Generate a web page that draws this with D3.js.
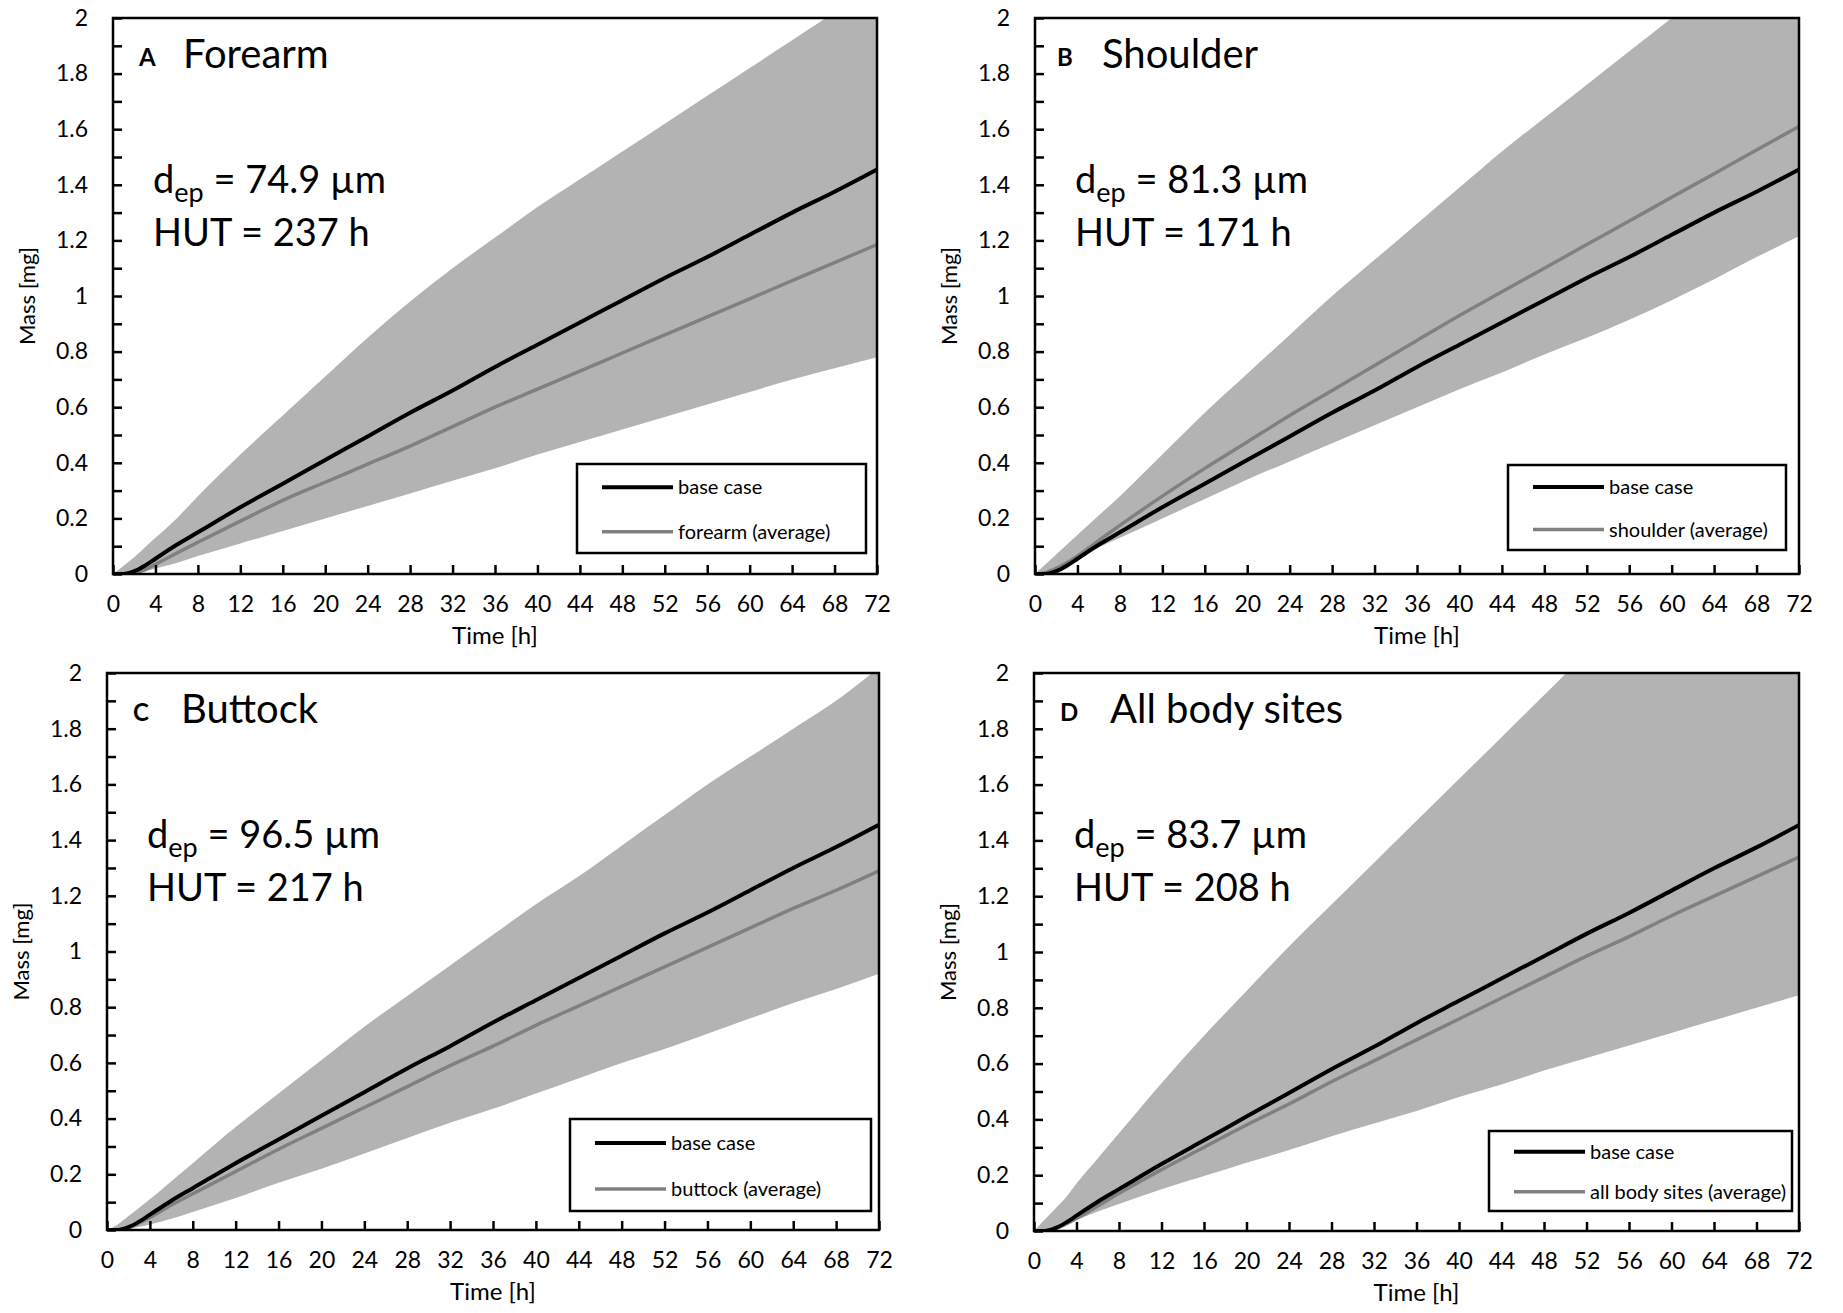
<!DOCTYPE html>
<html>
<head>
<meta charset="utf-8">
<script src="https://cdn.jsdelivr.net/npm/d3@7"></script>
<style>
  html, body { margin: 0; padding: 0; background: #fff; }
  svg { display: block; }
  text { font-family: Lato, "Open Sans", sans-serif; fill: #000; }
</style>
</head>
<body>
<svg id="chart" width="1843" height="1313"></svg>
<script>
// ---------- data ----------
const time = [0, 1, 2, 3, 4, 6, 8, 12, 16, 20, 24, 28, 32, 36, 40, 44, 48, 52, 56, 60, 64, 68, 72];

const baseCase = [0, 0, 0.01, 0.03, 0.055, 0.105, 0.15, 0.24, 0.325, 0.41, 0.495, 0.58, 0.66, 0.745, 0.825, 0.905, 0.985, 1.065, 1.14, 1.22, 1.30, 1.375, 1.455];

const forearmAvg   = [0, 0, 0.005, 0.015, 0.035, 0.075, 0.114, 0.19, 0.265, 0.33, 0.395, 0.46, 0.53, 0.60, 0.665, 0.73, 0.795, 0.86, 0.925, 0.99, 1.055, 1.12, 1.185];
const forearmUpper = [0, 0.03, 0.06, 0.095, 0.13, 0.2, 0.28, 0.43, 0.57, 0.71, 0.85, 0.98, 1.1, 1.21, 1.32, 1.42, 1.52, 1.62, 1.72, 1.82, 1.92, 2.02, 2.12];
const forearmLower = [0, 0, 0.005, 0.01, 0.02, 0.04, 0.065, 0.11, 0.155, 0.2, 0.245, 0.29, 0.335, 0.38, 0.43, 0.475, 0.52, 0.565, 0.61, 0.655, 0.70, 0.74, 0.78];

const shoulderAvg   = [0, 0.005, 0.02, 0.04, 0.065, 0.12, 0.175, 0.28, 0.38, 0.475, 0.57, 0.66, 0.75, 0.84, 0.93, 1.015, 1.10, 1.185, 1.27, 1.355, 1.44, 1.525, 1.61];
const shoulderUpper = [0, 0.035, 0.07, 0.105, 0.14, 0.21, 0.28, 0.43, 0.58, 0.72, 0.86, 1.0, 1.13, 1.26, 1.39, 1.52, 1.64, 1.76, 1.88, 2.0, 2.12, 2.24, 2.35];
const shoulderLower = [0, 0.01, 0.025, 0.04, 0.06, 0.095, 0.13, 0.2, 0.27, 0.34, 0.405, 0.47, 0.535, 0.6, 0.665, 0.725, 0.79, 0.85, 0.915, 0.985, 1.06, 1.14, 1.215];

const buttockAvg   = [0, 0, 0.008, 0.025, 0.045, 0.09, 0.13, 0.21, 0.29, 0.365, 0.44, 0.515, 0.59, 0.66, 0.735, 0.805, 0.875, 0.945, 1.015, 1.085, 1.155, 1.22, 1.29];
const buttockUpper = [0, 0.02, 0.05, 0.08, 0.11, 0.175, 0.24, 0.37, 0.49, 0.61, 0.73, 0.84, 0.95, 1.06, 1.17, 1.27, 1.38, 1.49, 1.6, 1.7, 1.8, 1.9, 2.02];
const buttockLower = [0, 0, 0.005, 0.012, 0.02, 0.04, 0.065, 0.115, 0.17, 0.22, 0.275, 0.33, 0.385, 0.435, 0.49, 0.545, 0.6, 0.65, 0.705, 0.76, 0.815, 0.865, 0.92];

const allSitesAvg   = [0, 0, 0.008, 0.025, 0.045, 0.09, 0.135, 0.22, 0.3, 0.38, 0.455, 0.535, 0.61, 0.685, 0.76, 0.835, 0.91, 0.985, 1.055, 1.13, 1.2, 1.27, 1.34];
const allSitesUpper = [0, 0.04, 0.08, 0.12, 0.17, 0.26, 0.35, 0.53, 0.7, 0.86, 1.02, 1.17, 1.32, 1.47, 1.62, 1.77, 1.92, 2.07, 2.2, 2.33, 2.45, 2.57, 2.69];
const allSitesLower = [0, 0.003, 0.01, 0.025, 0.04, 0.07, 0.097, 0.15, 0.197, 0.245, 0.29, 0.34, 0.385, 0.43, 0.48, 0.525, 0.575, 0.62, 0.665, 0.71, 0.755, 0.8, 0.845];

const xTickValues = [0, 4, 8, 12, 16, 20, 24, 28, 32, 36, 40, 44, 48, 52, 56, 60, 64, 68, 72];
const yTickValues = [0, 0.2, 0.4, 0.6, 0.8, 1, 1.2, 1.4, 1.6, 1.8, 2];
const yTickLabels = ["0", "0.2", "0.4", "0.6", "0.8", "1", "1.2", "1.4", "1.6", "1.8", "2"];
const yMinorTicks = [0, 0.1, 0.2, 0.3, 0.4, 0.5, 0.6, 0.7, 0.8, 0.9, 1, 1.1, 1.2, 1.3, 1.4, 1.5, 1.6, 1.7, 1.8, 1.9, 2];

const panelLetters = ["A", "B", "C", "D"];
const panelNames = ["Forearm", "Shoulder", "Buttock", "All body sites"];
const depValues = ["74.9", "81.3", "96.5", "83.7"];
const hutValues = ["237", "171", "217", "208"];
const legendNames = ["forearm (average)", "shoulder (average)", "buttock (average)", "all body sites (average)"];
const avgSeries = [forearmAvg, shoulderAvg, buttockAvg, allSitesAvg];
const upperSeries = [forearmUpper, shoulderUpper, buttockUpper, allSitesUpper];
const lowerSeries = [forearmLower, shoulderLower, buttockLower, allSitesLower];

// ---------- layout ----------
const panels = [
  { left: 113, right: 877, top: 18, bottom: 574, legW: 289, legH: 89, legR: 11, legB: 21, titleX: 26, nameX: 70 },
  { left: 1035, right: 1799, top: 18, bottom: 574, legW: 278, legH: 85, legR: 13, legB: 24, titleX: 22, nameX: 67 },
  { left: 107, right: 879, top: 673, bottom: 1230, legW: 301, legH: 92, legR: 8, legB: 19, titleX: 26, nameX: 74 },
  { left: 1034, right: 1799, top: 673, bottom: 1231, legW: 303, legH: 80, legR: 7, legB: 20, titleX: 26, nameX: 76 }
];

const svg = d3.select("#chart");
const FILL = "#b3b3b3";
const GRAY = "#808080";

panels.forEach((p, i) => {
  const g = svg.append("g");
  const x = d3.scaleLinear().domain([0, 72]).range([p.left, p.right]);
  const y = d3.scaleLinear().domain([0, 2]).range([p.bottom, p.top]);

  const clipId = "clip" + i;
  svg.append("clipPath").attr("id", clipId)
    .append("rect").attr("x", p.left).attr("y", p.top)
    .attr("width", p.right - p.left).attr("height", p.bottom - p.top);

  const rows = time.map((t, k) => ({
    t, base: baseCase[k], avg: avgSeries[i][k], up: upperSeries[i][k], lo: lowerSeries[i][k]
  }));

  const plot = g.append("g").attr("clip-path", `url(#${clipId})`);

  const area = d3.area().x(d => x(d.t)).y0(d => y(d.lo)).y1(d => y(d.up)).curve(d3.curveMonotoneX);
  plot.append("path").datum(rows).attr("d", area).attr("fill", FILL);

  const lineAvg = d3.line().x(d => x(d.t)).y(d => y(d.avg)).curve(d3.curveMonotoneX);
  const lineBase = d3.line().x(d => x(d.t)).y(d => y(d.base)).curve(d3.curveMonotoneX);
  plot.append("path").datum(rows).attr("d", lineAvg)
    .attr("fill", "none").attr("stroke", GRAY).attr("stroke-width", 3.5);
  plot.append("path").datum(rows).attr("d", lineBase)
    .attr("fill", "none").attr("stroke", "#000").attr("stroke-width", 4);

  // frame
  g.append("rect").attr("x", p.left).attr("y", p.top)
    .attr("width", p.right - p.left).attr("height", p.bottom - p.top)
    .attr("fill", "none").attr("stroke", "#000").attr("stroke-width", 2.5);

  // y axis: inward ticks every 0.1, labels every 0.2
  const yAxisMinor = d3.axisLeft(y).tickValues(yMinorTicks).tickSizeInner(-9).tickSizeOuter(0).tickFormat("");
  const ya = g.append("g").attr("transform", `translate(${p.left},0)`).call(yAxisMinor);
  ya.select(".domain").remove();
  ya.selectAll(".tick line").attr("stroke", "#000").attr("stroke-width", 2.5);

  const yAxisLab = d3.axisLeft(y).tickValues(yTickValues).tickSize(0).tickPadding(25)
    .tickFormat((d, k) => yTickLabels[k]);
  const yl = g.append("g").attr("transform", `translate(${p.left},0)`).call(yAxisLab);
  yl.select(".domain").remove();
  yl.selectAll("text").attr("font-size", 23).attr("font-family", "Lato, sans-serif").attr("fill", "#000");

  // x axis: inward ticks every 4
  const xAxis = d3.axisBottom(x).tickValues(xTickValues).tickSizeInner(-9).tickSizeOuter(0).tickPadding(22)
    .tickFormat(d3.format("d"));
  const xa = g.append("g").attr("transform", `translate(0,${p.bottom})`).call(xAxis);
  xa.select(".domain").remove();
  xa.selectAll(".tick line").attr("stroke", "#000").attr("stroke-width", 2.5);
  xa.selectAll("text").attr("font-size", 23).attr("font-family", "Lato, sans-serif").attr("fill", "#000");

  // axis titles
  g.append("text").attr("x", (p.left + p.right) / 2).attr("y", p.bottom + 70)
    .attr("text-anchor", "middle").attr("font-size", 24).text("Time [h]");
  g.append("text")
    .attr("transform", `translate(${p.left - 86},${(p.top + p.bottom) / 2}) rotate(-90)`)
    .attr("text-anchor", "middle").attr("dy", "0.35em").attr("font-size", 22).text("Mass [mg]");

  // panel title
  g.append("text").attr("x", p.left + p.titleX).attr("y", p.top + 48)
    .attr("font-size", 24).attr("font-weight", "bold")
    .attr("font-family", "'Liberation Sans', Arial, sans-serif").text(panelLetters[i]);
  g.append("text").attr("x", p.left + p.nameX).attr("y", p.top + 50)
    .attr("font-size", 40).text(panelNames[i]);

  // annotations
  const ann = g.append("text").attr("x", p.left + 40).attr("y", p.top + 175).attr("font-size", 38);
  ann.append("tspan").text("d");
  ann.append("tspan").attr("font-size", 27).attr("dy", 9).text("ep");
  ann.append("tspan").attr("dy", -9).text(" = " + depValues[i] + " µm");
  g.append("text").attr("x", p.left + 40).attr("y", p.top + 228).attr("font-size", 38)
    .text("HUT = " + hutValues[i] + " h");

  // legend
  const lx = p.right - p.legR - p.legW;
  const ly = p.bottom - p.legB - p.legH;
  const leg = g.append("g");
  leg.append("rect").attr("x", lx).attr("y", ly).attr("width", p.legW).attr("height", p.legH)
    .attr("fill", "#fff").attr("stroke", "#000").attr("stroke-width", 2.5);
  const r1 = ly + p.legH * 0.26, r2 = ly + p.legH * 0.76;
  leg.append("line").attr("x1", lx + 25).attr("x2", lx + 96).attr("y1", r1).attr("y2", r1)
    .attr("stroke", "#000").attr("stroke-width", 4);
  leg.append("line").attr("x1", lx + 25).attr("x2", lx + 96).attr("y1", r2).attr("y2", r2)
    .attr("stroke", GRAY).attr("stroke-width", 3.5);
  leg.append("text").attr("x", lx + 101).attr("y", r1).attr("dy", "0.35em")
    .attr("font-size", 20).text("base case");
  leg.append("text").attr("x", lx + 101).attr("y", r2).attr("dy", "0.35em")
    .attr("font-size", 20).text(legendNames[i]);
});
</script>
</body>
</html>
